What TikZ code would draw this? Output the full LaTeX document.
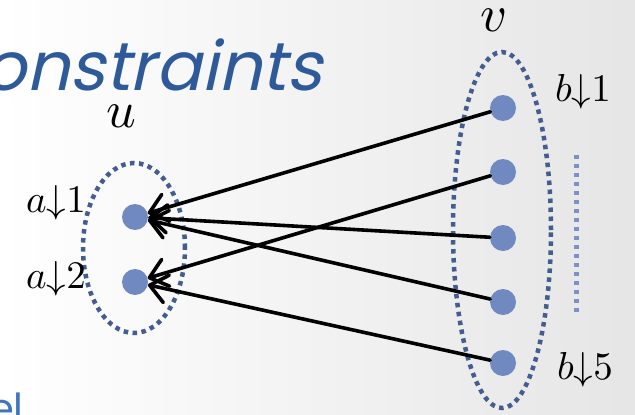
\documentclass[tikz,border=0pt]{standalone}
\usepackage{amsmath,amssymb}
\usepackage{fontspec}
\usepackage{tikz}
\usetikzlibrary{arrows.meta,shapes.geometric}
\usepackage{xcolor}
\newfontfamily\titlefont[FakeSlant=0.22]{Poppins}
\newfontfamily\bodyfont{Poppins}
\definecolor{titleblue}{RGB}{46,90,154}
\definecolor{bodyblue}{RGB}{62,118,190}
\definecolor{dotblue}{RGB}{112,137,192}
\definecolor{rimblue}{RGB}{68,92,142}
\definecolor{lineblue}{RGB}{123,146,200}
\tikzset{
  dot/.style={circle,fill=dotblue,minimum size=26pt,inner sep=0pt},
  setrim/.style={ellipse,draw=rimblue,line width=4.5pt,dash pattern=on 4.5pt off 4.5pt,inner sep=0pt},
  lbl/.style={scale=3.9,inner sep=0pt},
  setname/.style={scale=5.2,inner sep=0pt},
  map/.style={->,line width=3.6pt,line cap=round}
}

\begin{document}
\begin{tikzpicture}[x=1pt,y=-1pt,>={Straight Barb[length=17pt,width=28pt,round]}]
\useasboundingbox (0,0) rectangle (635,415);
\clip (0,0) rectangle (635,415);
\shade[left color=white,right color=black!10] (0,0) rectangle (635,415);
% slide text, cut by the frame
\node[anchor=base east,inner sep=0pt,text=titleblue,font=\titlefont\fontsize{68}{72}\selectfont] (title) at (322,90) {onstraints};
\node[anchor=base east,inner sep=0pt,text=bodyblue,font=\bodyfont\fontsize{40}{44}\selectfont] (rest) at (24,422) {el};
% the two sets
\node[setrim,minimum width=102pt,minimum height=170pt] (setu) at (134,248) {};
\node[setrim,minimum width=98pt,minimum height=356pt] (setv) at (502,230) {};
\node[setname,anchor=base] (nu) at (121,127) {$u$};
\node[setname,anchor=base] (nv) at (494,31) {$v$};
% elements
\node[dot] (a1) at (135,217) {};
\node[dot] (a2) at (135,282) {};
\foreach \i/\y in {1/108,2/172,3/238,4/302,5/363}
  \node[dot] (b\i) at (503,\y) {};
\node[lbl,anchor=base] (la1) at (56,212) {$a{\downarrow}1$};
\node[lbl,anchor=base] (la2) at (56,288) {$a{\downarrow}2$};
\node[lbl,anchor=base] (lb1) at (583,101) {$b{\downarrow}1$};
\node[lbl,anchor=base] (lb5) at (585,379) {$b{\downarrow}5$};
\coordinate (dtop) at (576,155);
\coordinate (dbot) at (576,315);
\draw[lineblue,line width=5pt,dash pattern=on 4pt off 5pt] (dtop) -- (dbot);
% the mapping
\draw[map] (b1) -- (a1);
\draw[map] (b2) -- (a2);
\draw[map] (b3) -- (a1);
\draw[map] (b4) -- (a1);
\draw[map] (b5) -- (a2);
\end{tikzpicture}
\end{document}
